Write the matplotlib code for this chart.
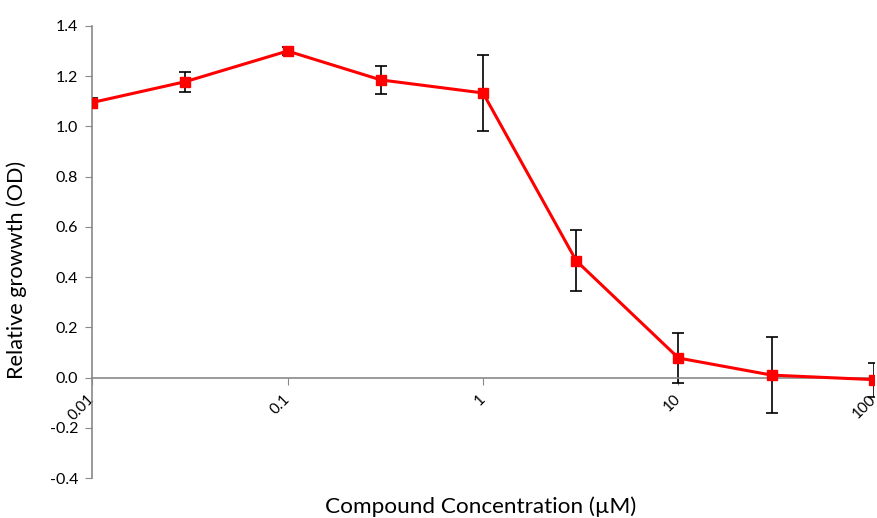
import matplotlib
matplotlib.use("Agg")
import matplotlib.pyplot as plt
from matplotlib.ticker import FixedLocator, FixedFormatter, NullLocator

conc = [0.01, 0.03, 0.1, 0.3, 1, 3, 10, 30, 100]
growth = [1.095, 1.178, 1.300, 1.185, 1.133, 0.465, 0.078, 0.010, -0.008]
err = [0.018, 0.040, 0.015, 0.057, 0.150, 0.122, 0.100, 0.150, 0.068]
xticks = [0.01, 0.1, 1, 10, 100]
xtick_labels = ["0.01", "0.1", "1", "10", "100"]
yticks = [-0.4, -0.2, 0.0, 0.2, 0.4, 0.6, 0.8, 1.0, 1.2, 1.4]

plt.rcParams['font.family'] = ['Lato', 'DejaVu Sans']

fig = plt.figure(figsize=(8.77, 5.18), dpi=100)
ax = fig.add_axes([0.105, 0.077, 0.8915, 0.873])

gray = '#898989'
ax.errorbar(conc, growth, yerr=err, fmt='none', ecolor='black', elinewidth=1.2,
            capsize=4, capthick=1.2, zorder=2)
ax.plot(conc, growth, color='#ff0000', lw=2.2, marker='s', markersize=7.5,
        markerfacecolor='#ff0000', markeredgecolor='#ff0000', zorder=3)

ax.set_xscale('log')
ax.set_xlim(0.01, 100)
ax.set_ylim(-0.4, 1.4)

ax.xaxis.set_major_locator(FixedLocator(xticks))
ax.xaxis.set_major_formatter(FixedFormatter(xtick_labels))
ax.xaxis.set_minor_locator(NullLocator())
ax.set_yticks(yticks)
ax.set_yticklabels([f"{v:.1f}" for v in yticks])

for s in ['top', 'right']:
    ax.spines[s].set_visible(False)
ax.spines['left'].set_color(gray)
ax.spines['bottom'].set_color(gray)
ax.spines['bottom'].set_position(('data', 0))
ax.spines['left'].set_linewidth(1.2)
ax.spines['bottom'].set_linewidth(1.2)

ax.tick_params(axis='y', direction='out', length=5, color=gray, labelsize=11.5,
               labelcolor='black', pad=5)
ax.tick_params(axis='x', direction='out', length=5, color=gray, labelsize=11,
               labelcolor='black', pad=9)
for lbl in ax.get_xticklabels():
    lbl.set_rotation(45)
    lbl.set_rotation_mode('anchor')
    lbl.set_ha('right')
    lbl.set_va('center')

ax.set_ylabel('Relative growwth (OD)', fontsize=15.6)
ax.yaxis.set_label_coords(-0.083, 0.46)
fig.text(0.548, 0.002, 'Compound Concentration (µM)', fontsize=16.2,
         ha='center', va='bottom')

fig.savefig('out.png', dpi=100)
